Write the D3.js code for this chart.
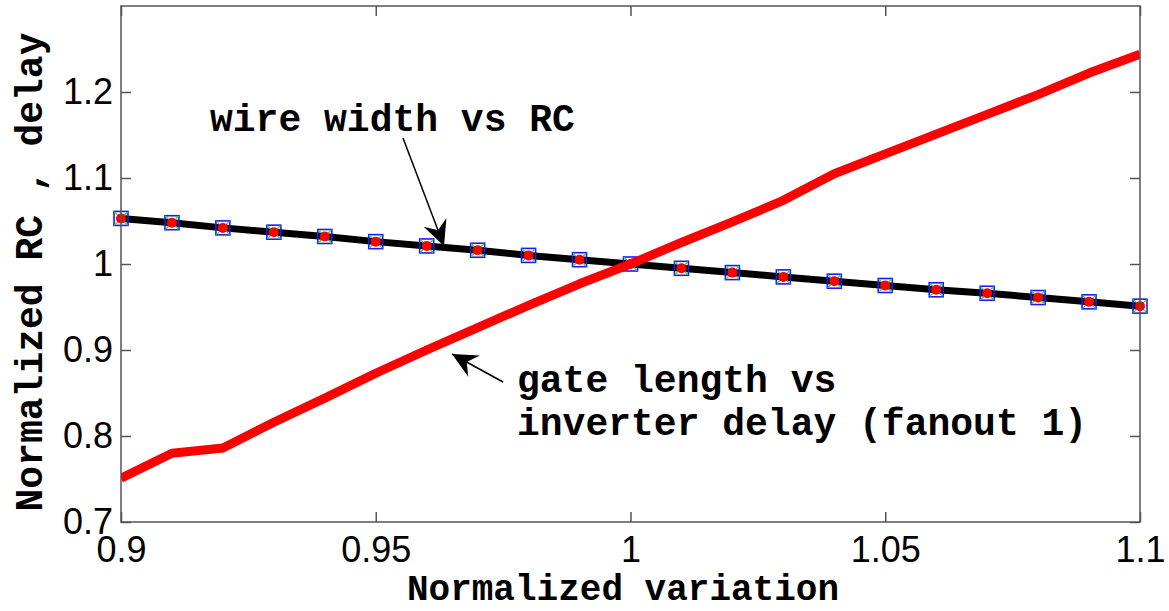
<!DOCTYPE html>
<html>
<head>
<meta charset="utf-8">
<script src="https://cdnjs.cloudflare.com/ajax/libs/d3/7.8.5/d3.min.js"></script>
<style>
  body { margin: 0; background: #fff; }
  .mono { font-family: "Liberation Mono", "Courier New", monospace; font-weight: bold; font-size: 38px; fill: #000; }
</style>
</head>
<body>
<svg id="chart" width="1169" height="611"></svg>
<script>
// normalized variation (x)
var variation = [0.90, 0.91, 0.92, 0.93, 0.94, 0.95, 0.96, 0.97, 0.98, 0.99, 1.00,
                 1.01, 1.02, 1.03, 1.04, 1.05, 1.06, 1.07, 1.08, 1.09, 1.10];
// wire width vs RC
var wireRC = [1.053, 1.048, 1.042, 1.037, 1.032, 1.026, 1.021, 1.016, 1.010, 1.005, 1.000,
              0.995, 0.990, 0.985, 0.980, 0.975, 0.970, 0.966, 0.961, 0.956, 0.951];
// gate length vs inverter delay (fanout 1)
var gateDelay = [0.751, 0.780, 0.786, 0.816, 0.844, 0.873, 0.900, 0.926, 0.952, 0.977, 1.000,
                 1.025, 1.049, 1.074, 1.105, 1.128, 1.151, 1.174, 1.197, 1.222, 1.244];
var xTicks = [0.9, 0.95, 1, 1.05, 1.1];
var yTicks = [0.7, 0.8, 0.9, 1, 1.1, 1.2];

var svg = d3.select("#chart");
var margin = {left: 121, right: 29, top: 6, bottom: 89};
var width = 1169 - margin.left - margin.right,
    height = 611 - margin.top - margin.bottom;

var x = d3.scaleLinear().domain([0.9, 1.1]).range([0, width]);
var y = d3.scaleLinear().domain([0.7, 1.3]).range([height, 0]);

var g = svg.append("g").attr("transform", "translate(" + margin.left + "," + margin.top + ")");

// axes, ticks pointing inward like matlab
var fmt = function(d) { return d3.format("")(+d.toFixed(2)); };
var xAxis = g.append("g").attr("transform", "translate(0," + height + ")")
    .call(d3.axisBottom(x).tickValues(xTicks).tickSize(-10).tickPadding(22).tickFormat(fmt));
var xTop = g.append("g")
    .call(d3.axisTop(x).tickValues(xTicks).tickSize(-10).tickFormat(""));
var yAxis = g.append("g")
    .call(d3.axisLeft(y).tickValues(yTicks).tickSize(-10).tickPadding(20).tickFormat(fmt));
var yRight = g.append("g").attr("transform", "translate(" + width + ",0)")
    .call(d3.axisRight(y).tickValues(yTicks).tickSize(-10).tickFormat(""));

[xAxis, xTop, yAxis, yRight].forEach(function(a) {
    a.select(".domain").remove();
    a.selectAll(".tick line").attr("stroke", "#555").attr("stroke-width", 1.5);
    a.selectAll(".tick text")
        .attr("font-family", "'Liberation Sans', Arial, sans-serif")
        .attr("font-size", 36).attr("fill", "#000");
});
xAxis.selectAll(".tick text").attr("dy", "0.5em");
yAxis.selectAll(".tick text").attr("x", -8);

// clip lines to the box
g.append("clipPath").attr("id", "clip").append("rect").attr("width", width).attr("height", height);

var line = d3.line()
    .x(function(d) { return x(d[0]); })
    .y(function(d) { return y(d[1]); });

var wirePts = variation.map(function(v, i) { return [v, wireRC[i]]; });
var gatePts = variation.map(function(v, i) { return [v, gateDelay[i]]; });

g.append("path").datum(wirePts)
    .attr("d", line).attr("fill", "none")
    .attr("stroke", "#000").attr("stroke-width", 7);

// markers: blue square, green x, red dot
var mk = g.selectAll("g.mk").data(wirePts).enter().append("g")
    .attr("class", "mk")
    .attr("transform", function(d) { return "translate(" + x(d[0]) + "," + y(d[1]) + ")"; });
mk.append("rect").attr("x", -7).attr("y", -7).attr("width", 14).attr("height", 14)
    .attr("fill", "none").attr("stroke", "#1a1aff").attr("stroke-width", 1.6);
mk.append("path").attr("d", "M-6.5,-6.5L6.5,6.5M-6.5,6.5L6.5,-6.5")
    .attr("stroke", "#33dd33").attr("stroke-width", 1.3);
mk.append("circle").attr("r", 5).attr("fill", "#ff0000");

g.append("path").datum(gatePts)
    .attr("clip-path", "url(#clip)")
    .attr("d", line).attr("fill", "none")
    .attr("stroke", "#ff0000").attr("stroke-width", 9)
    .attr("stroke-linejoin", "round");

// frame
g.append("rect").attr("width", width).attr("height", height)
    .attr("fill", "none").attr("stroke", "#555").attr("stroke-width", 1.5);

// labels
svg.append("text").attr("class", "mono")
    .attr("x", 623).attr("y", 600).style("font-size", "36px")
    .attr("text-anchor", "middle").text("Normalized variation");
svg.append("text").attr("class", "mono")
    .attr("transform", "translate(42," + 272 + ") rotate(-90)")
    .attr("text-anchor", "middle").text("Normalized RC , delay");

// annotations
svg.append("text").attr("class", "mono").attr("x", 210).attr("y", 131).text("wire width vs RC");
svg.append("text").attr("class", "mono").attr("x", 517).attr("y", 392).text("gate length vs");
svg.append("text").attr("class", "mono").attr("x", 517).attr("y", 435).text("inverter delay (fanout 1)");

function arrow(x1, y1, x2, y2) {
    svg.append("line").attr("x1", x1).attr("y1", y1).attr("x2", x2).attr("y2", y2)
        .attr("stroke", "#000").attr("stroke-width", 1.5);
    var a = Math.atan2(y2 - y1, x2 - x1), L = 28, W = 0.45;
    var p1 = [x2 - L * Math.cos(a - W), y2 - L * Math.sin(a - W)];
    var p2 = [x2 - L * Math.cos(a + W), y2 - L * Math.sin(a + W)];
    var pm = [x2 - 0.6 * L * Math.cos(a), y2 - 0.6 * L * Math.sin(a)];
    svg.append("path")
        .attr("d", "M" + x2 + "," + y2 + "L" + p1 + "L" + pm + "L" + p2 + "Z")
        .attr("fill", "#000");
}
arrow(403, 138, 444, 246);
arrow(503, 382, 452, 354);
</script>
</body>
</html>
